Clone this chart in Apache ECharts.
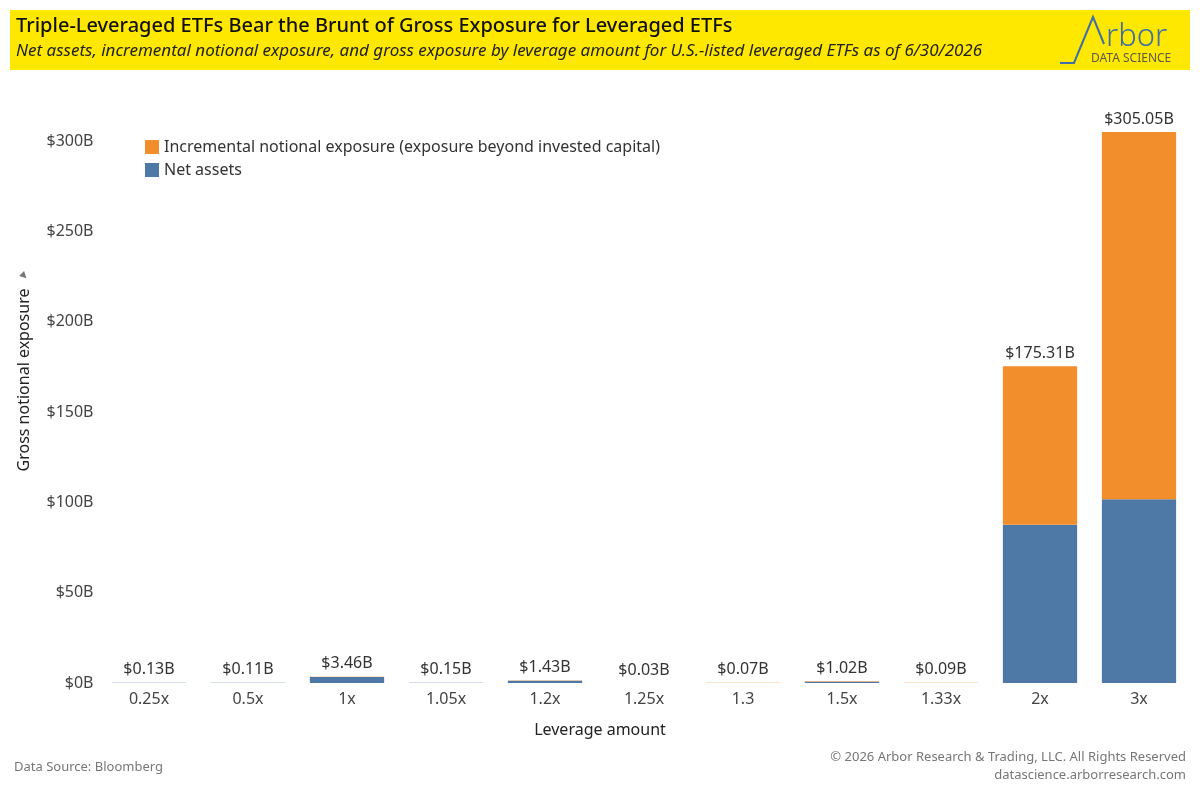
<!DOCTYPE html>
<html>
<head>
<meta charset="utf-8">
<script src="https://cdn.jsdelivr.net/npm/echarts@6/dist/echarts.min.js"></script>
<style>
  html, body { margin: 0; padding: 0; background: #fff; }
  #main { width: 1200px; height: 800px; }
</style>
</head>
<body>
<div id="main"></div>
<script>
// 杠杆倍数
var leverage = ['0.25x', '0.5x', '1x', '1.05x', '1.2x', '1.25x', '1.3', '1.5x', '1.33x', '2x', '3x'];
// 净资产 (十亿美元)
var netAssets = [0.13, 0.11, 3.30, 0.14, 1.19, 0.024, 0.054, 0.68, 0.068, 87.65, 101.68];
// 增量名义敞口 (十亿美元)
var incremental = [0, 0, 0.16, 0.01, 0.24, 0.006, 0.016, 0.34, 0.022, 87.66, 203.37];
// 总名义敞口 (柱顶标签)
var gross = [0.13, 0.11, 3.46, 0.15, 1.43, 0.03, 0.07, 1.02, 0.09, 175.31, 305.05];
// y轴刻度
var yTicks = [0, 50, 100, 150, 200, 250, 300];

var myChart = echarts.init(document.getElementById('main'));

var baseFont = 'Noto Sans';
var blue = '#4E79A7';
var orange = '#F28E2B';

var option = {
    animation: false,
    backgroundColor: '#fff',
    textStyle: { fontFamily: baseFont },
    graphic: [
        // 标题黄色背景
        { type: 'rect', left: 10, top: 10, shape: { width: 1180, height: 60 }, style: { fill: '#FFE800' }, z: 0 },
        { type: 'text', left: 16, top: 16, style: { text: 'Triple-Leveraged ETFs Bear the Brunt of Gross Exposure for Leveraged ETFs', font: '500 20px "Noto Sans"', fill: '#111' } },
        { type: 'text', left: 16, top: 43, style: { text: 'Net assets, incremental notional exposure, and gross exposure by leverage amount for U.S.-listed leveraged ETFs as of 6/30/2026', font: 'italic 17px "Noto Sans"', fill: '#222' } },
        // logo
        { type: 'polyline', shape: { points: [[1060, 63], [1074, 63], [1093, 17], [1104, 44]] }, style: { stroke: '#3F6FA5', lineWidth: 2, fill: null } },
        { type: 'text', left: 1106, top: 22, style: { text: 'rbor', font: '300 31px "Noto Sans"', fill: '#3F6FA5' } },
        { type: 'text', left: 1091, top: 53, style: { text: 'DATA SCIENCE', font: '12px "Noto Sans"', fill: '#5a5a4a' } },
        // 纵轴标题
        { type: 'text', x: 24, y: 380, rotation: Math.PI / 2, style: { text: 'Gross notional exposure', font: '16px "Noto Sans"', fill: '#222', align: 'center', verticalAlign: 'middle' } },
        { type: 'text', x: 24, y: 276, rotation: Math.PI / 4, style: { text: '\u25BC', font: '9px "DejaVu Sans"', fill: '#777', align: 'center', verticalAlign: 'middle' } },
        // 横轴标题
        { type: 'text', x: 600, y: 730, style: { text: 'Leverage amount', font: '16px "Noto Sans"', fill: '#222', align: 'center', verticalAlign: 'middle' } },
        // 脚注
        { type: 'text', left: 14, top: 761, style: { text: 'Data Source: Bloomberg', font: '13px "Noto Sans"', fill: '#777' } },
        { type: 'text', right: 14, top: 751, style: { text: '\u00a9 2026 Arbor Research & Trading, LLC. All Rights Reserved', font: '13px "Noto Sans"', fill: '#777', align: 'right' } },
        { type: 'text', right: 14, top: 769, style: { text: 'datascience.arborresearch.com', font: '13px "Noto Sans"', fill: '#777', align: 'right' } }
    ],
    legend: {
        data: ['Incremental notional exposure (exposure beyond invested capital)', 'Net assets'],
        orient: 'vertical',
        left: 140,
        top: 134,
        itemWidth: 14,
        itemHeight: 14,
        itemGap: 7,
        icon: 'rect',
        textStyle: { fontSize: 16, color: '#333', fontFamily: baseFont }
    },
    grid: {
        left: 99.5,
        right: 11.5,
        top: 123,
        bottom: 117
    },
    xAxis: {
        type: 'category',
        data: leverage,
        axisLine: { show: false },
        axisTick: { show: false },
        axisLabel: { fontSize: 16, color: '#444', margin: 8 }
    },
    yAxis: {
        type: 'value',
        min: 0,
        max: 310,
        interval: 50,
        splitLine: { show: false },
        axisLine: { show: false },
        axisTick: { show: false },
        axisLabel: {
            fontSize: 16,
            color: '#444',
            margin: 6,
            showMaxLabel: false,
            formatter: function (v) {
                return yTicks.indexOf(v) >= 0 ? '$' + v + 'B' : '';
            }
        }
    },
    series: [
        {
            name: 'Net assets',
            type: 'bar',
            stack: 'gross',
            barWidth: '75%',
            itemStyle: { color: blue },
            data: netAssets
        },
        {
            name: 'Incremental notional exposure (exposure beyond invested capital)',
            type: 'bar',
            stack: 'gross',
            barWidth: '75%',
            itemStyle: { color: orange },
            data: incremental
        },
        {
            // 透明柱, 只用来放总额标签
            name: 'Gross',
            type: 'bar',
            barGap: '-100%',
            barWidth: '75%',
            itemStyle: { color: 'rgba(0,0,0,0)' },
            silent: true,
            z: 5,
            label: {
                show: true,
                position: 'top',
                distance: 5,
                fontSize: 16,
                color: '#333',
                formatter: function (p) {
                    return '$' + p.value.toFixed(2) + 'B';
                }
            },
            data: gross
        }
    ]
};

myChart.setOption(option);
</script>
</body>
</html>
